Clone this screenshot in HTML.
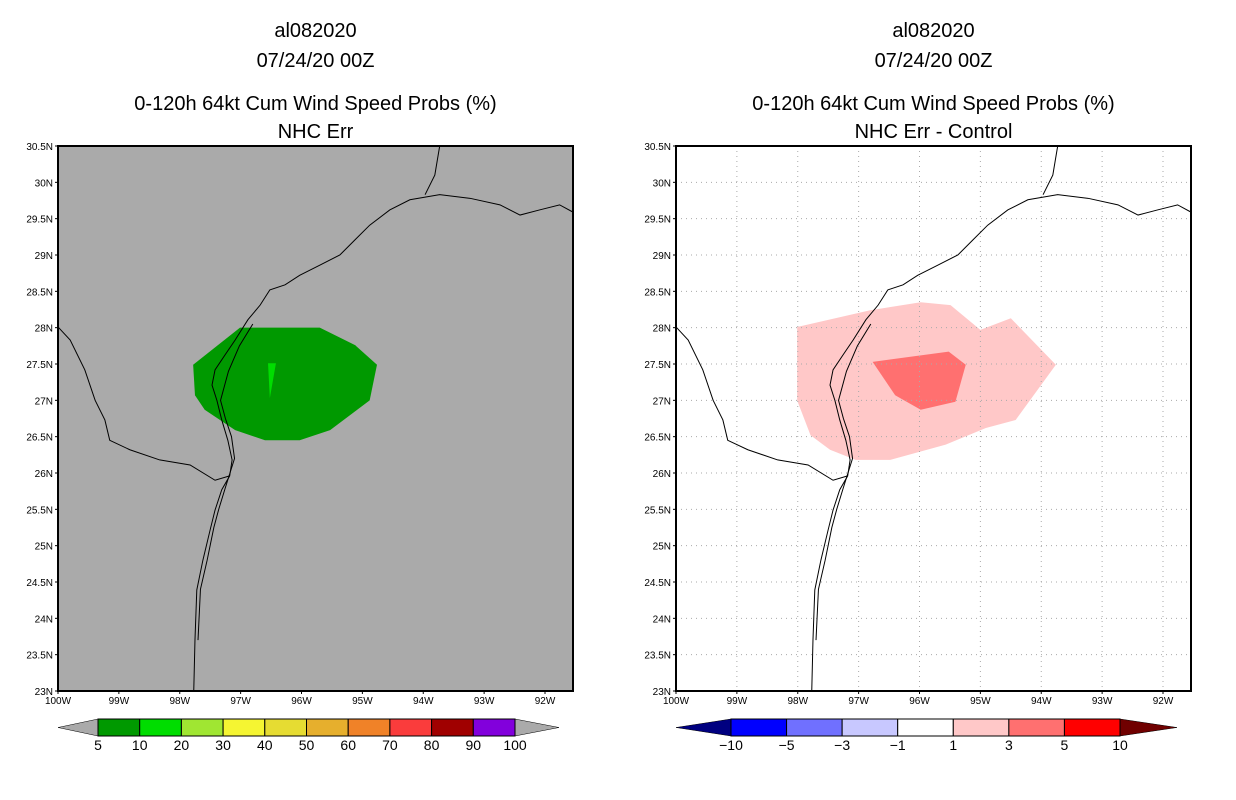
<!DOCTYPE html>
<html><head><meta charset="utf-8"><style>
body{margin:0;background:#fff;}
svg{display:block;font-family:"Liberation Sans",sans-serif;}
</style></head><body>
<svg id="fig" width="1236" height="800" viewBox="0 0 1236 800"></svg>
<script>
const latTicks=[23,23.5,24,24.5,25,25.5,26,26.5,27,27.5,28,28.5,29,29.5,30,30.5];
const lonTicks=[100,99,98,97,96,95,94,93,92];
const coastMain=[[-97.77,23.0],[-97.75,23.7],[-97.72,24.39],[-97.62,24.8],[-97.5,25.22],[-97.42,25.49],[-97.31,25.77],[-97.18,25.96],[-97.14,26.18],[-97.21,26.45],[-97.31,26.73],[-97.39,27.0],[-97.47,27.21],[-97.42,27.42],[-97.26,27.62],[-97.09,27.83],[-96.88,28.11],[-96.68,28.31],[-96.52,28.52],[-96.27,28.59],[-96.03,28.72],[-95.7,28.86],[-95.37,29.0],[-95.12,29.21],[-94.88,29.41],[-94.55,29.62],[-94.22,29.76],[-93.73,29.83],[-93.23,29.78],[-92.74,29.69],[-92.41,29.55],[-92.09,29.62],[-91.76,29.69],[-91.54,29.59]];
const coastIsland=[[-97.7,23.7],[-97.66,24.4],[-97.55,24.8],[-97.44,25.25],[-97.36,25.5],[-97.25,25.8],[-97.1,26.2],[-97.15,26.5],[-97.25,26.75],[-97.33,27.0],[-97.2,27.4],[-97.02,27.75],[-96.8,28.05]];
const rioGrande=[[-100,28.01],[-99.8,27.83],[-99.56,27.42],[-99.39,27.0],[-99.23,26.73],[-99.15,26.45],[-98.82,26.32],[-98.33,26.18],[-97.83,26.11],[-97.42,25.9],[-97.18,25.96]];
const sabine=[[-93.73,30.5],[-93.81,30.1],[-93.97,29.83]];
const greenOuter=[[-97.78,27.49],[-97.01,28.0],[-95.7,28.0],[-95.12,27.76],[-94.76,27.49],[-94.88,27.0],[-95.53,26.59],[-96.03,26.45],[-96.6,26.45],[-97.09,26.59],[-97.59,26.87],[-97.75,27.07]];
const greenInner=[[-96.55,27.51],[-96.42,27.51],[-96.52,27.03]];
const pinkLight=[[-98.01,28.01],[-96.81,28.24],[-95.98,28.35],[-95.49,28.31],[-95.0,27.97],[-94.5,28.13],[-93.76,27.49],[-94.42,26.73],[-94.91,26.62],[-95.57,26.39],[-96.48,26.18],[-97.05,26.18],[-97.47,26.32],[-97.79,26.52],[-98.01,27.0]];
const pinkDark=[[-96.77,27.53],[-95.52,27.67],[-95.24,27.49],[-95.41,26.98],[-95.98,26.87],[-96.4,27.07]];
const leftLabels=["5","10","20","30","40","50","60","70","80","90","100"];
const leftColors=["#009900","#00dd00","#a0e632","#f5f532","#e6dc32","#e6af2d","#f08228","#fa3c3c","#a00000","#8200dc"];
const rightLabels=["-10","-5","-3","-1","1","3","5","10"];
const rightColors=["#0000ff","#7070ff","#c8c8ff","#ffffff","#ffc8c8","#ff7070","#ff0000"];

const NS="http://www.w3.org/2000/svg";
const fig=document.getElementById('fig');
function el(t,a,p){const e=document.createElementNS(NS,t);for(const k in a)e.setAttribute(k,a[k]);(p||fig).appendChild(e);return e;}
function txt(s,x,y,size,anchor,p){const e=el('text',{x:x,y:y,'font-size':size,'text-anchor':anchor||'middle',fill:'#000'},p);e.textContent=s;return e;}

function panel(x0,name,bg,titleLine4,grid,polys){
  const x1=x0+515,y0=146,y1=691;
  const g=el('g',{});
  
  
  const sx=lon=>x0+(lon+100)*(487/8);
  const sy=lat=>y1-(lat-23)*(545/7.5);
  const cx=(x0+x1)/2;
  [["al082020",37],["07/24/20 00Z",67],["0-120h 64kt Cum Wind Speed Probs (%)",110],[titleLine4,138]].forEach((t,i)=>{
    const e=txt(t[0],cx,t[1],20,'middle',g);
    
    
  });
  const bgr=el('rect',{x:x0,y:y0,width:x1-x0,height:y1-y0,fill:bg},g);
  
  
  const clip=el('clipPath',{id:'c'+x0},g);
  el('rect',{x:x0,y:y0,width:x1-x0,height:y1-y0},clip);
  const inner=el('g',{'clip-path':'url(#c'+x0+')'},g);
  polys.forEach(p=>{
    const e=el('polygon',{points:p[0].map(q=>sx(q[0])+','+sy(q[1])).join(' '),fill:p[1]},inner);
    
    
  });
  if(grid){
    lonTicks.forEach(l=>{const e=el('line',{x1:sx(-l),x2:sx(-l),y1:y0,y2:y1,stroke:'#aaa','stroke-dasharray':'1,4'},inner);});
    latTicks.forEach(l=>{const e=el('line',{x1:x0,x2:x1,y1:sy(l),y2:sy(l),stroke:'#aaa','stroke-dasharray':'1,4'},inner);});
  }
  [coastMain,coastIsland,rioGrande,sabine].forEach(c=>{
    const e=el('polyline',{points:c.map(q=>sx(q[0])+','+sy(q[1])).join(' '),fill:'none',stroke:'#000','stroke-width':1},inner);
    
    
  });
  const fr=el('rect',{x:x0,y:y0,width:x1-x0,height:y1-y0,fill:'none',stroke:'#000','stroke-width':2},g);
  
  
  latTicks.forEach(l=>{
    el('line',{x1:x0-3,x2:x0,y1:sy(l),y2:sy(l),stroke:'#000'},g);
    const e=txt((l%1?l.toFixed(1):l)+'N',x0-5,sy(l)+4,10,'end',g);
    
    
  });
  lonTicks.forEach(l=>{
    el('line',{x1:sx(-l),x2:sx(-l),y1:y1,y2:y1+3,stroke:'#000'},g);
    const e=txt(l+'W',sx(-l),y1+13,10,'middle',g);
    
    
  });
}
panel(58,'left-map','#aaaaaa','NHC Err',false,[[greenOuter,'#009900','prob-5-10'],[greenInner,'#00dd00','prob-10-20']]);
panel(676,'right-map','#ffffff','NHC Err - Control',true,[[pinkLight,'#ffc8c8','diff-1-3'],[pinkDark,'#ff7070','diff-3-5']]);

function colorbar(name,xs,xe,tip0,tip1,colors,labels,c0,c1){
  const g=el('g',{});
  
  
  const y0=719,y1=736,ym=(y0+y1)/2,w=(xe-xs)/colors.length;
  const t0=el('polygon',{points:`${tip0},${ym} ${xs},${y0} ${xs},${y1}`,fill:c0,stroke:'#000','stroke-width':0.5},g);
  
  const t1=el('polygon',{points:`${tip1},${ym} ${xe},${y0} ${xe},${y1}`,fill:c1,stroke:'#000','stroke-width':0.5},g);
  
  colors.forEach((c,i)=>{
    const r=el('rect',{x:xs+i*w,y:y0,width:w,height:y1-y0,fill:c,stroke:'#000','stroke-width':1},g);
    
  });
  const off=labels.length===colors.length+1?0:1;
  labels.forEach((s,i)=>{
    const e=txt(s.replace('-','\u2212'),xs+(i+off)*w,750,14,'middle',g);
    
  });
}
colorbar('left-colorbar',98,515,58,559,leftColors,leftLabels,'#aaaaaa','#aaaaaa');
colorbar('right-colorbar',731,1120,676,1177,rightColors,rightLabels,'#000080','#700000');
</script>
</body></html>
